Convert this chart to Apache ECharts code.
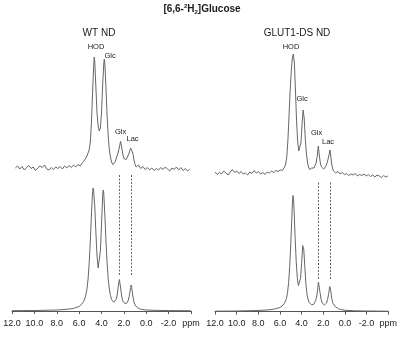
<!DOCTYPE html>
<html>
<head>
<meta charset="utf-8">
<script src="https://cdn.jsdelivr.net/npm/echarts@6/dist/echarts.min.js"></script>
<style>
  html, body { margin: 0; padding: 0; background: #fff; }
  #spectra { width: 400px; height: 338px; }
</style>
</head>
<body>
<div id="spectra"></div>
<script>
// [ppm, intensity], ppm high -> low
const wtInVivo = [
  [11.7,0],[11.5,2],[11.3,-1],[11.1,1.5],[10.9,-2],[10.7,0.5],[10.5,2.5],[10.3,-0.5],[10.1,1],[9.9,-2.5],
  [9.7,0],[9.5,2],[9.3,0.5],[9.1,3],[8.9,-1],[8.7,-2],[8.5,0.5],[8.3,-1.5],[8.1,1],[7.9,-0.5],
  [7.7,1.5],[7.5,-1],[7.3,2],[7.1,0],[6.9,2.5],[6.7,0.5],[6.5,3],[6.3,1],[6.1,3.5],[5.9,2],[5.7,5.5],
  [5.5,8],[5.4,7],[5.3,12],[5.2,11],[5.1,18],[5.0,26],[4.9,45],[4.8,75],[4.7,102],[4.65,111],
  [4.6,106],[4.5,80],[4.4,55],[4.3,42],[4.2,37],[4.15,36],[4.1,40],[4.0,55],[3.9,82],[3.8,104],
  [3.75,109],[3.7,104],[3.6,80],[3.5,52],[3.4,32],[3.3,18],[3.2,11],[3.1,6],[3.0,3.5],[2.9,5],
  [2.8,5.5],[2.7,9],[2.6,11],[2.5,16],[2.4,21],[2.3,26.5],[2.2,21],[2.1,14],[2.0,9.5],[1.9,8],
  [1.8,8.5],[1.7,10],[1.6,13],[1.5,16],[1.4,20],[1.3,21],[1.2,15],[1.1,8],[1.0,3.5],
  [0.9,1],[0.7,3],[0.5,-0.5],[0.3,1.5],[0.1,-1.5],[-0.1,0.5],[-0.3,-2],[-0.5,0],[-0.7,-2.5],[-0.9,-0.5],
  [-1.1,-2],[-1.3,0.5],[-1.5,-1.5],[-1.7,1],[-1.9,-1],[-2.1,-3],[-2.3,0],[-2.5,-1.5],[-2.7,1],[-2.9,-2],
  [-3.1,0.5],[-3.3,-2.5],[-3.5,-0.5],[-3.7,-3],[-3.9,-1]
];

const glutInVivo = [
  [12.0,1],[11.8,-1.5],[11.6,0.5],[11.4,-1],[11.2,2],[11.0,0],[10.8,-2],[10.6,1],[10.4,3.5],[10.2,0.5],
  [10.0,2],[9.8,-0.5],[9.6,1.5],[9.4,-1],[9.2,0],[9.0,-2],[8.8,1],[8.6,-0.5],[8.4,2.5],[8.2,0],
  [8.0,1.5],[7.8,-1],[7.6,0.5],[7.4,-1.5],[7.2,1],[7.0,0],[6.8,2],[6.6,0.5],[6.4,2.5],[6.2,1.5],
  [6.0,3],[5.8,2.5],[5.7,4],[5.6,6],[5.5,9],[5.4,16],[5.3,32],[5.2,55],[5.1,80],[5.0,100],
  [4.9,114],[4.8,119],[4.7,110],[4.6,82],[4.5,52],[4.4,32],[4.3,22],[4.2,21],[4.1,30],[4.0,48],
  [3.9,63],[3.8,55],[3.7,35],[3.6,20],[3.5,11],[3.4,6],[3.3,3.5],[3.2,3],[3.1,5],[3.0,6],
  [2.9,5],[2.8,7],[2.7,10],[2.6,17],[2.5,27],[2.4,17],[2.3,9],[2.2,6],[2.1,5.5],[2.0,4],
  [1.9,5],[1.8,7],[1.7,10],[1.6,14],[1.5,19],[1.43,23],[1.35,17],[1.3,11],[1.2,5],[1.1,2],[1.0,1.5],
  [0.9,0],[0.7,1.5],[0.5,-1],[0.3,0.5],[0.1,-1.5],[-0.1,-0.5],[-0.3,-2.5],[-0.5,-1],[-0.7,-2],[-0.9,-0.5],
  [-1.1,-3],[-1.3,-1.5],[-1.5,-2.5],[-1.7,-1],[-1.9,-3],[-2.1,-1.5],[-2.3,-3.5],[-2.5,-2],[-2.7,-4],[-2.9,-2],
  [-3.1,-3],[-3.3,-4.5],[-3.5,-2.5],[-3.7,-4],[-3.9,-3]
];

const wtFitted = [
  [12.0,0.3],[10.0,0.5],[8.0,1.0],[7.0,1.8],[6.5,2.6],[6.0,4.5],[5.8,6.5],[5.6,9.5],[5.5,12],[5.4,16],
  [5.3,22],[5.2,32],[5.1,48],[5.0,70],[4.9,97],[4.8,118],[4.75,123],[4.7,120],[4.6,104],[4.5,78],
  [4.4,55],[4.3,43],[4.25,42],[4.2,45],[4.1,60],[4.0,86],[3.9,114],[3.85,121],[3.8,118],[3.7,96],
  [3.6,70],[3.5,48],[3.4,32],[3.3,22],[3.2,15.5],[3.1,11.5],[3.0,9.5],[2.9,8.8],[2.8,9.5],[2.7,11.5],
  [2.6,16],[2.5,24.5],[2.4,31.5],[2.3,24],[2.2,15],[2.1,10],[2.0,8],[1.9,7.3],[1.8,7.3],[1.7,8.3],
  [1.6,11],[1.5,16],[1.4,23.5],[1.35,26],[1.3,23.5],[1.2,15],[1.1,9],[1.0,6],[0.9,4.3],[0.8,3.3],
  [0.6,2.2],[0.4,1.6],[0.0,1.0],[-1.0,0.6],[-2.0,0.4],[-4.0,0.3]
];

const glutFitted = [
  [12.0,0.3],[10.0,0.5],[8.0,1.0],[7.0,1.7],[6.5,2.5],[6.0,4],[5.8,5.5],[5.6,8],[5.5,10],[5.4,13],
  [5.3,19],[5.2,29],[5.1,45],[5.0,68],[4.9,95],[4.85,108],[4.8,116],[4.75,113],[4.7,102],[4.6,74],
  [4.5,50],[4.4,34],[4.3,26],[4.2,26],[4.1,33],[4.0,48],[3.9,66],[3.8,62],[3.7,44],[3.6,27],
  [3.5,17],[3.4,12],[3.3,9],[3.2,7.5],[3.1,6.8],[3.0,6.5],[2.9,7],[2.8,8.5],[2.7,11],[2.6,15.5],
  [2.5,24],[2.45,29.5],[2.4,28],[2.3,19],[2.2,12],[2.1,8.5],[2.0,7],[1.9,6.5],[1.8,7],[1.7,8.5],
  [1.6,12],[1.5,18],[1.4,25],[1.35,24],[1.3,20],[1.2,12],[1.1,8],[1.0,6.5],[0.9,5],[0.8,4],
  [0.6,2.8],[0.4,2],[0.0,1.2],[-1.0,0.7],[-2.0,0.5],[-4.0,0.3]
];

// dotted guides: ppm of Glx and Lac, and their vertical extent in fitted-intensity units
const wtGuides = [2.4, 1.35];
const wtGuideSpan = [136, 36];
const glutGuides = [2.45, 1.4];
const glutGuideSpan = [129, 31];

const tickLabels = { 12: "12.0", 10: "10.0", 8: "8.0", 6: "6.0", 4: "4.0", 2: "2.0", 0: "0.0", "-2": "-2.0", "-4": "ppm" };

const FONT = "Liberation Sans, Arial, sans-serif";
const LINE = "#666666";
const INK = "#1a1a1a";

function ppmAxis(gridIndex, showAxis) {
  return {
    type: "value",
    gridIndex,
    min: -4,
    max: 12,
    interval: 2,
    inverse: true,
    show: showAxis,
    splitLine: { show: false },
    axisLine: { lineStyle: { color: "#555", width: 1 } },
    axisTick: { length: 3, lineStyle: { color: "#555" } },
    axisLabel: {
      margin: 5,
      fontFamily: FONT,
      fontSize: 9,
      color: "#222",
      formatter: v => tickLabels[v],
    },
  };
}

function guideLines(ppms, span) {
  return {
    silent: true,
    symbol: ["none", "none"],
    label: { show: false },
    lineStyle: { type: [2, 1.5], color: LINE, width: 1 },
    data: ppms.map(p => [{ coord: [p, span[0]] }, { coord: [p, span[1]] }]),
  };
}

function spectrum(data, idx, markLine) {
  const s = {
    type: "line",
    data,
    xAxisIndex: idx,
    yAxisIndex: idx,
    showSymbol: false,
    smooth: false,
    silent: true,
    clip: false,
    lineStyle: { color: LINE, width: 1 },
  };
  if (markLine) s.markLine = markLine;
  return s;
}

function label(text, x, y, size, bold) {
  return {
    type: "text",
    x, y,
    style: {
      text,
      fill: INK,
      font: (bold ? "bold " : "") + size + "px " + FONT,
      align: "center",
      verticalAlign: "middle",
    },
  };
}

const chart = echarts.init(document.getElementById("spectra"));

chart.setOption({
  animation: false,
  backgroundColor: "#fff",
  grid: [
    { left: 12, width: 179, top: 50, height: 130 },
    { left: 12, width: 179, top: 170, height: 144 },
    { left: 215, width: 174, top: 50, height: 130 },
    { left: 215, width: 174, top: 170, height: 144 },
  ],
  xAxis: [ppmAxis(0, false), ppmAxis(1, true), ppmAxis(2, false), ppmAxis(3, true)],
  yAxis: [
    { type: "value", gridIndex: 0, min: -12, max: 118, show: false },
    { type: "value", gridIndex: 1, min: -3, max: 141, show: false },
    { type: "value", gridIndex: 2, min: -7, max: 123, show: false },
    { type: "value", gridIndex: 3, min: -2.5, max: 141.5, show: false },
  ],
  series: [
    spectrum(wtInVivo, 0),
    spectrum(wtFitted, 1, guideLines(wtGuides, wtGuideSpan)),
    spectrum(glutInVivo, 2),
    spectrum(glutFitted, 3, guideLines(glutGuides, glutGuideSpan)),
  ],
  graphic: [
    {
      type: "text",
      x: 202,
      y: 9,
      style: {
        text: "[6,6-{sup|2}H{sub|2}]Glucose",
        fill: INK,
        font: "bold 10px " + FONT,
        align: "center",
        verticalAlign: "middle",
        lineHeight: 12,
        rich: {
          sup: { fontSize: 6, fontWeight: "bold", fontFamily: FONT, verticalAlign: "top", lineHeight: 6, fill: INK },
          sub: { fontSize: 6, fontWeight: "bold", fontFamily: FONT, verticalAlign: "bottom", lineHeight: 6, fill: INK },
        },
      },
    },
    label("WT ND", 99, 33, 10),
    label("GLUT1-DS ND", 297, 33, 10),
    label("HOD", 96, 47, 7.5),
    label("Glc", 110, 56, 7.5),
    label("Glx", 120.5, 132, 7.5),
    label("Lac", 132.5, 139, 7.5),
    label("HOD", 291, 47, 7.5),
    label("Glc", 302, 99, 7.5),
    label("Glx", 316.5, 133, 7.5),
    label("Lac", 328, 142, 7.5),
  ],
});
</script>
</body>
</html>
